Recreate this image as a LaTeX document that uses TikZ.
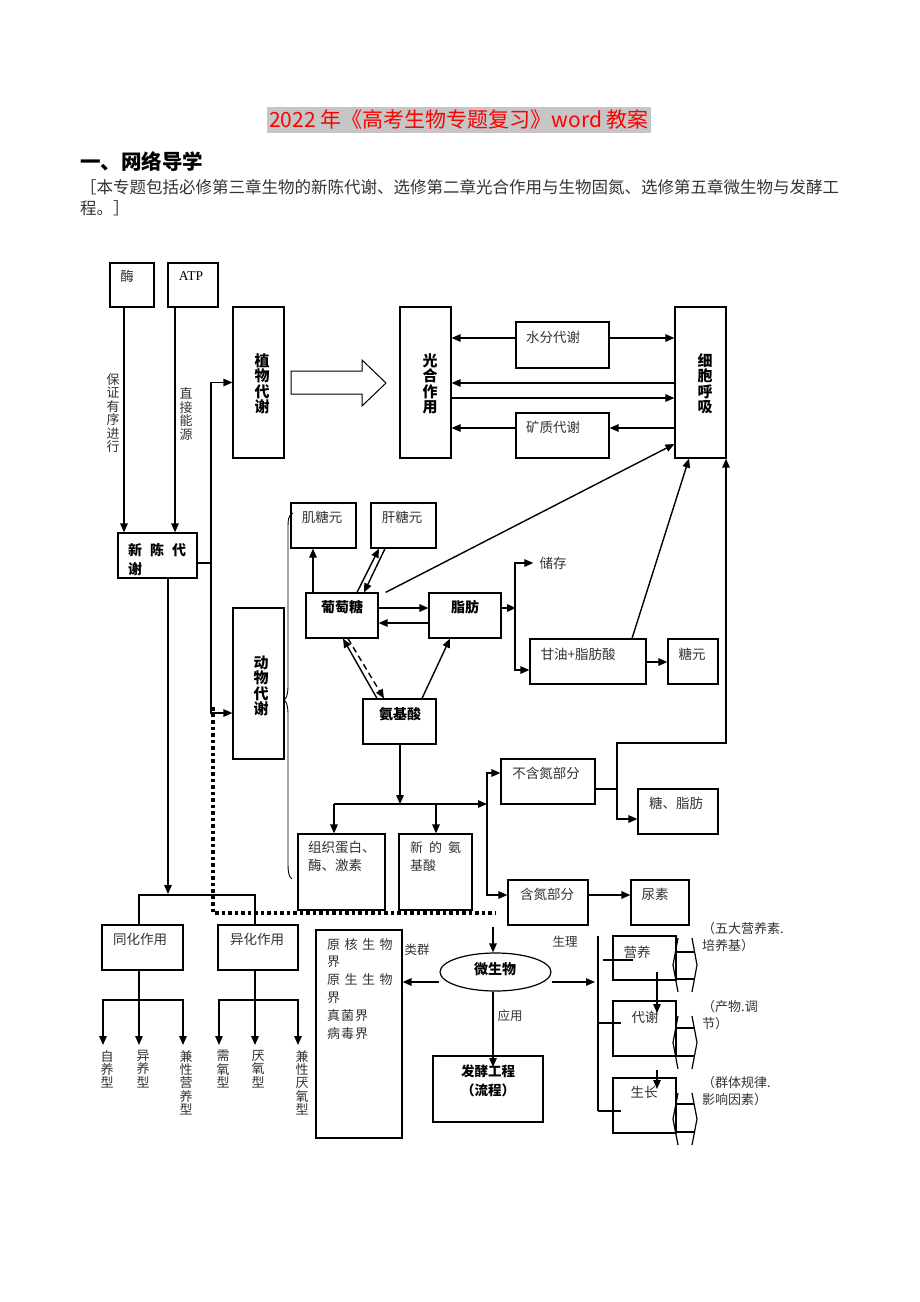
\documentclass[tikz,border=0pt]{standalone}
\usepackage{fontspec}
\setmainfont{Noto Sans CJK SC}
\newfontfamily\latinserif{Liberation Serif}
\usetikzlibrary{arrows.meta,shapes.geometric}
\newcommand\mkbox[5]{%
 \pgfmathsetmacro\bcx{(#2+#4)/2}\pgfmathsetmacro\bcy{(#3+#5)/2}%
 \pgfmathsetmacro\bww{#4-#2}\pgfmathsetmacro\bhh{#5-#3}%
 \node[bx, minimum width=\bww pt, minimum height=\bhh pt] (#1) at (\bcx,\bcy) {};}
\begin{document}
\begin{tikzpicture}[x=1pt,y=-1pt,
  bx/.style={draw, line width=1.2pt, inner sep=0pt},
  tx/.style={inner sep=0pt, font=\fontsize{13.5}{16}\selectfont, text=black!80},
  bt/.style={inner sep=0pt, font=\fontsize{14}{16}\selectfont\bfseries},
  vt/.style={inner sep=0pt, align=center, font=\fontsize{13}{13.4}\selectfont, text=black!80},
  vb/.style={inner sep=0pt, align=center, font=\fontsize{15}{15.5}\selectfont\bfseries},
  ar/.style={-{Triangle[length=9pt,width=7.5pt]}, line width=1.4pt},
  ln/.style={line width=1.4pt},
  thinln/.style={line width=1.2pt},
]
\fill[white] (0,0) rectangle (920,1302);
\useasboundingbox (0,0) rectangle (920,1302);

% header
\node[fill=gray!45, text=red, inner xsep=2pt, inner ysep=3pt, font=\fontsize{21}{24}\selectfont] (title) at (459,120) {2022 年《高考生物专题复习》word 教案};
\node[anchor=west, inner sep=0pt, font=\fontsize{20.5}{22}\selectfont\bfseries] (h1) at (80,162) {一、网络导学};
\node[anchor=west, inner sep=0pt, text=black!80, font=\fontsize{16.5}{18}\selectfont] (p1) at (80,187) {［本专题包括必修第三章生物的新陈代谢、选修第二章光合作用与生物固氮、选修第五章微生物与发酵工};
\node[anchor=west, inner sep=0pt, text=black!80, font=\fontsize{16.5}{18}\selectfont] (p2) at (80,208) {程。］};

% boxes
\mkbox{mei}{110}{263}{154}{307}
\mkbox{atp}{168}{263}{218}{307}
\mkbox{xc}{118}{533}{197}{578}
\mkbox{zw}{233}{307}{284}{458}
\mkbox{gh}{400}{307}{451}{458}
\mkbox{xb}{675}{307}{726}{458}
\mkbox{sf}{516}{322}{609}{368}
\mkbox{kz}{516}{413}{609}{458}
\mkbox{jt}{291}{503}{356}{548}
\mkbox{gt}{371}{503}{436}{548}
\mkbox{ptt}{306}{593}{378}{638}
\mkbox{zf}{429}{593}{501}{638}
\mkbox{gy}{530}{639}{646}{684}
\mkbox{ty}{668}{639}{718}{684}
\mkbox{aj}{363}{699}{436}{744}
\mkbox{dw}{233}{608}{284}{759}
\mkbox{bh}{501}{759}{595}{804}
\mkbox{tz}{638}{789}{718}{834}
\mkbox{zz}{298}{834}{385}{910}
\mkbox{xa}{399}{834}{472}{910}
\mkbox{hd}{508}{880}{588}{925}
\mkbox{ns}{631}{880}{689}{925}
\mkbox{th}{102}{925}{183}{970}
\mkbox{yh}{218}{925}{298}{970}
\mkbox{jie}{316}{930}{402}{1138}
\mkbox{fj}{433}{1056}{543}{1122}
\mkbox{yy}{613}{936}{676}{980}
\mkbox{dx}{613}{1001}{676}{1056}
\mkbox{sz}{613}{1078}{676}{1133}
\node[draw, ellipse, line width=1.2pt, inner sep=0pt, minimum width=111pt, minimum height=38pt] (ws) at (495.5,972) {};

% texts in boxes
\node[tx] (t-mei) at (127,276) {酶};
\node[inner sep=0pt, font=\latinserif\fontsize{13.5}{16}\selectfont] (t-atp) at (191,276) {ATP};
\node[anchor=west, align=left, inner sep=0pt, font=\fontsize{14}{19}\selectfont\bfseries] (t-xc) at (128,560) {新\hspace{8pt}陈\hspace{8pt}代\\谢};
\node[vb] (t-zw) at (262,384) {植\\物\\代\\谢};
\node[vb] (t-gh) at (430,384) {光\\合\\作\\用};
\node[vb] (t-xb) at (705,384) {细\\胞\\呼\\吸};
\node[vb] (t-dw) at (261,686) {动\\物\\代\\谢};
\node[tx] (t-sf) at (553,337) {水分代谢};
\node[tx] (t-kz) at (553,427) {矿质代谢};
\node[tx] (t-jt) at (322,517) {肌糖元};
\node[tx] (t-gt) at (402,517) {肝糖元};
\node[bt] (t-ptt) at (342,607) {葡萄糖};
\node[bt] (t-zf) at (465,607) {脂肪};
\node[bt] (t-aj) at (400,714) {氨基酸};
\node[tx] (cc) at (553,563) {储存};
\node[tx] (t-gy) at (578,654) {甘油+脂肪酸};
\node[tx] (t-ty) at (692,654) {糖元};
\node[tx] (t-bh) at (546,773) {不含氮部分};
\node[tx] (t-tz) at (676,803) {糖、脂肪};
\node[tx, anchor=north west, align=left, font=\fontsize{13.5}{18}\selectfont] (t-zz) at (308,841) {组织蛋白、\\酶、激素};
\node[tx, anchor=north west, align=left, font=\fontsize{13}{18}\selectfont] (t-xa) at (410,841) {新\hspace{6pt}的\hspace{6pt}氨\\基酸};
\node[tx] (t-hd) at (547,894) {含氮部分};
\node[tx] (t-ns) at (655,894) {尿素};
\node[tx] (t-th) at (140,939) {同化作用};
\node[tx] (t-yh) at (257,939) {异化作用};
\node[tx, anchor=north west, align=left, font=\fontsize{13}{17.8}\selectfont] (t-jie) at (327,938) {原\hspace{4.5pt}核\hspace{4.5pt}生\hspace{4.5pt}物\\界\\原\hspace{4.5pt}生\hspace{4.5pt}生\hspace{4.5pt}物\\界\\真\hspace{1pt}菌\hspace{1pt}界\\病\hspace{1pt}毒\hspace{1pt}界};
\node[bt] (t-ws) at (495,969) {微生物};
\node[bt, align=center, font=\fontsize{13.5}{19}\selectfont\bfseries] (t-fj) at (488,1081) {发酵工程\\（流程）};
\node[tx] (t-yy) at (637,952) {营养};
\node[tx] (t-dx) at (645,1017) {代谢};
\node[tx] (t-sz) at (644,1092) {生长};

% edge labels
\node[vt] (l-bz) at (113,413) {保\\证\\有\\序\\进\\行};
\node[vt] (l-zj) at (186,414) {直\\接\\能\\源};
\node[tx, font=\fontsize{12.5}{14}\selectfont] (l-lq) at (417,950) {类群};
\node[tx, font=\fontsize{12.5}{14}\selectfont] (l-sl) at (565,942) {生理};
\node[tx, font=\fontsize{12.5}{14}\selectfont] (l-yy) at (510,1016) {应用};
\node[vt, anchor=north] (l1) at (107,1050) {自\\养\\型};
\node[vt, anchor=north] (l2) at (143,1050) {异\\养\\型};
\node[vt, anchor=north] (l3) at (186,1050) {兼\\性\\营\\养\\型};
\node[vt, anchor=north] (l4) at (223,1050) {需\\氧\\型};
\node[vt, anchor=north] (l5) at (258,1050) {厌\\氧\\型};
\node[vt, anchor=north] (l6) at (302,1050) {兼\\性\\厌\\氧\\型};
\node[tx, anchor=west, align=left, font=\fontsize{13}{17}\selectfont] (a1) at (702,937) {（五大营养素.\\培养基）};
\node[tx, anchor=west, align=left, font=\fontsize{13}{17}\selectfont] (a2) at (702,1015) {（产物.调\\节）};
\node[tx, anchor=west, align=left, font=\fontsize{13}{17}\selectfont] (a3) at (702,1091) {（群体规律.\\影响因素）};

% hollow arrow
\draw[line width=1pt, fill=white] (291,371) -- (362,371) -- (362,360) -- (386,383) -- (362,406) -- (362,394) -- (291,394) -- cycle;

% connectors, upper left
\draw[ar] (mei.south -| 124,0) -- (xc.north -| 124,0);
\draw[ar] (atp.south -| 175,0) -- (xc.north -| 175,0);
\draw[ar] (xc.east |- 0,563) -- (211,563) |- (zw.west);
\draw[ar] (211,563) |- (dw.west |- 0,713);

% photosynthesis / respiration
\draw[ar] (sf.west |- 0,338) -- (gh.east |- 0,338);
\draw[ar] (sf.east |- 0,338) -- (xb.west |- 0,338);
\draw[ar] (xb.west |- 0,383) -- (gh.east |- 0,383);
\draw[ar] (gh.east |- 0,398) -- (xb.west |- 0,398);
\draw[ar] (kz.west |- 0,428) -- (gh.east |- 0,428);
\draw[ar] (xb.west |- 0,428) -- (kz.east |- 0,428);
\draw[ar] ([xshift=7pt]ptt.north east) -- (xb.west |- 0,444);
\draw[ar] (gy.north -| 632,0) -- (xb.south -| 689,0);

% sugar / fat / amino acid
\draw[ar] (ptt.north -| 313,0) -- (jt.south -| 313,0);
\draw[ar] (ptt.north -| 357,0) -- (gt.south -| 379,0);
\draw[ar] (gt.south -| 385,0) -- (ptt.north -| 364,0);
\draw[ar] (ptt.east |- 0,608) -- (zf.west |- 0,608);
\draw[ar] (zf.west |- 0,623) -- (ptt.east |- 0,623);
\draw[ar] (zf.east |- 0,608) -- (516,608);
\draw[ar] (515,608) |- ([xshift=-6pt]cc.west);
\draw[ar] (515,608) |- (gy.west |- 0,670);
\draw[ar] (gy.east |- 0,662) -- (ty.west |- 0,662);
\draw[ar] (aj.north -| 377,0) -- (ptt.south -| 343,0);
\draw[ar, dash pattern=on 6pt off 4pt] (ptt.south -| 348,0) -- (aj.north -| 384,0);
\draw[ar] (aj.north -| 422,0) -- (zf.south -| 450,0);
\draw[ar] (aj.south -| 400,0) -- (400,804);
\draw[ar] (334,804) -- (487,804);
\draw[ar] (334,804) -- (zz.north -| 334,0);
\draw[ar] (436,804) -- (xa.north -| 436,0);
\draw[ar] (487,804) |- (bh.west |- 0,773);
\draw[ar] (487,804) |- (hd.west |- 0,895);
\draw[ar] (hd.east |- 0,895) -- (ns.west |- 0,895);
\draw[ar] (bh.east |- 0,789) -| (617,743) -| (xb.south -| 726,0);
\draw[ar] (617,789) |- (tz.west |- 0,819);

% brace
\draw[line width=0.9pt] (293,513) .. controls (288,515) and (288,520) .. (288,530) -- (288,686) .. controls (288,695) and (286,699) .. (284,700) .. controls (286,701) and (288,705) .. (288,714) -- (288,865) .. controls (288,872) and (289,877) .. (292,879);

% lower left tree
\draw[ar] (xc.south -| 168,0) -- (168,894);
\draw[ln] (th.north -| 139,0) -- (139,895) -- (255,895) -- (yh.north -| 255,0);
\draw[ln] (th.south -| 139,0) -- (139,1000);
\draw[ar] (139,1000) -- (139,1045);
\draw[ar] (139,1000) -| (103,1045);
\draw[ar] (139,1000) -| (183,1045);
\draw[ln] (yh.south -| 255,0) -- (255,1000);
\draw[ar] (255,1000) -- (255,1045);
\draw[ar] (255,1000) -| (219,1045);
\draw[ar] (255,1000) -| (298,1045);

% dotted link to microbes
\draw[line width=3.5pt, dash pattern=on 3.5pt off 3pt] (213,707) -- (213,913) -- (495,913);
\draw[ar] (493,927) -- (ws.north -| 493,0);
\draw[ar] (ws.west |- 0,982) -- (jie.east |- 0,982);
\draw[ar] (ws.south -| 493,0) -- (493,1067);
\draw[ar] (ws.east |- 0,982) -- (595,982);

% physiology bracket
\draw[ln] (598,936) -- (598,1111);
\draw[thinln] (603,960) -- (633,960);
\draw[thinln] (598,1023) -- (621,1023);
\draw[thinln] (598,1111) -- (621,1111);
\draw[ar] (657,972) -- (657,1013);
\draw[ar] (657,1070) -- (657,1089);

% double block arrows
\draw[thinln] (678,938) -- (673,965) -- (678,992);
\draw[thinln] (692,938) -- (697,965) -- (692,992);
\draw[thinln] (676,952) -- (694,952);
\draw[thinln] (676,979) -- (694,979);
\draw[thinln] (678,1016) -- (673,1042.5) -- (678,1069);
\draw[thinln] (692,1016) -- (697,1042.5) -- (692,1069);
\draw[thinln] (676,1028) -- (694,1028);
\draw[thinln] (676,1056) -- (694,1056);
\draw[thinln] (678,1093) -- (673,1119) -- (678,1145);
\draw[thinln] (692,1093) -- (697,1119) -- (692,1145);
\draw[thinln] (676,1104) -- (694,1104);
\draw[thinln] (676,1132) -- (694,1132);
\end{tikzpicture}
\end{document}
